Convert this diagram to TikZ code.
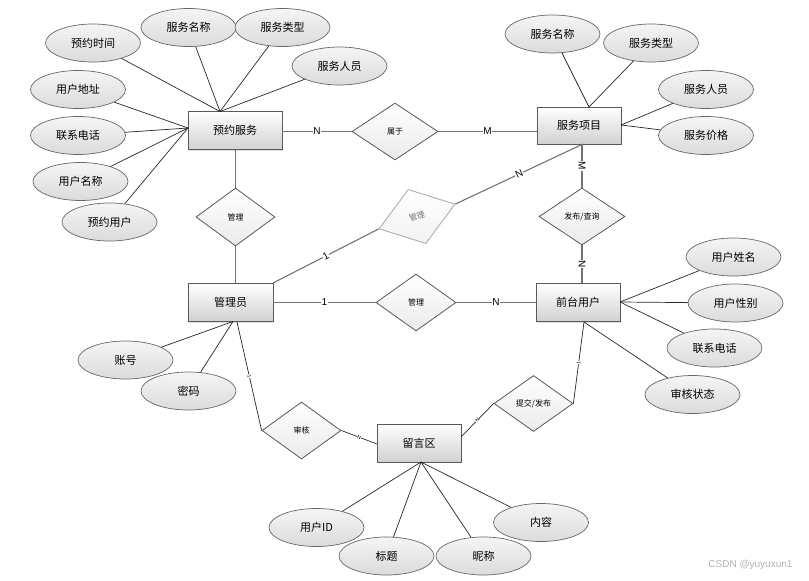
\documentclass[tikz,border=0pt]{standalone}
\usepackage{fontspec}
\setmainfont{Noto Sans CJK SC}
\newfontfamily\lat{Liberation Sans}
\usetikzlibrary{shapes.geometric,shadows,calc}
\begin{document}
\begin{tikzpicture}[x=1pt,y=-1pt,
  entity/.style={rectangle,draw=black!65,line width=0.9pt,top color=white,bottom color=black!18,
    minimum width=85pt,minimum height=38pt,inner sep=0pt,font=\fontsize{11}{13}\selectfont,
    drop shadow={opacity=0.25,shadow xshift=1.2pt,shadow yshift=-1.2pt}},
  attr/.style={ellipse,draw=black!60,line width=0.7pt,top color=black!4,bottom color=black!14,
    minimum width=95pt,minimum height=38pt,inner sep=0pt,font=\fontsize{11}{13}\selectfont},
  rel/.style={diamond,draw=black!65,line width=0.8pt,top color=white,bottom color=black!8,
    minimum width=80pt,minimum height=57pt,inner sep=0pt,font=\fontsize{8}{10}\selectfont},
  aline/.style={draw=black!85,line width=0.7pt},
  rline/.style={draw=black!55,line width=1.1pt},
  card/.style={fill=white,inner sep=0.6pt,font=\lat\fontsize{10}{12}\selectfont},
  tiny/.style={fill=white,inner sep=0.3pt,font=\lat\fontsize{5}{6}\selectfont,sloped}
]
\useasboundingbox (0,0) rectangle (809,581);

% entities
\node[entity,minimum width=94pt] (yy) at (235,130.5) {预约服务};
\node[entity,minimum width=84pt,minimum height=37pt] (fw) at (579,125.5) {服务项目};
\node[entity] (gl) at (230.5,302.5) {管理员};
\node[entity,minimum width=84pt] (qt) at (578,302.5) {前台用户};
\node[entity,minimum width=84pt] (ly) at (419,443) {留言区};

% relationships
\node[rel,minimum width=86pt] (sy) at (395,131.5) {属于};
\node[rel,minimum width=79pt,minimum height=58pt] (g1) at (235.5,217) {管理};
\node[rel,rotate=18,draw=black!35,text=black!55,top color=white,bottom color=black!5] (g2) at (417,216.5) {管理};
\node[rel] (g3) at (416,302.5) {管理};
\node[rel,minimum width=86pt] (fb) at (582,216.5) {发布/查询};
\node[rel,minimum width=79pt] (sh) at (301.5,430.5) {审核};
\node[rel,minimum width=79pt,minimum height=56pt] (tj) at (533.5,403.5) {提交/发布};

% attributes
\node[attr] (a1) at (93,43) {预约时间};
\node[attr] (a2) at (188.5,27.5) {服务名称};
\node[attr] (a3) at (282.5,27.5) {服务类型};
\node[attr] (a4) at (339.5,66) {服务人员};
\node[attr] (a5) at (78,89.5) {用户地址};
\node[attr] (a6) at (78,135.5) {联系电话};
\node[attr] (a7) at (80.5,181.5) {用户名称};
\node[attr] (a8) at (109.5,222) {预约用户};
\node[attr] (b1) at (552.5,34) {服务名称};
\node[attr] (b2) at (651,43) {服务类型};
\node[attr] (b3) at (706,89.5) {服务人员};
\node[attr] (b4) at (706,135.5) {服务价格};
\node[attr] (c1) at (125.5,360) {账号};
\node[attr] (c2) at (188.5,391) {密码};
\node[attr] (d1) at (733.5,257) {用户姓名};
\node[attr] (d2) at (735.5,303) {用户性别};
\node[attr] (d3) at (714.5,348) {联系电话};
\node[attr] (d4) at (692.5,394.5) {审核状态};
\node[attr] (e1) at (316.5,527.5) {用户ID};
\node[attr] (e2) at (386.5,556) {标题};
\node[attr] (e3) at (483.5,556) {昵称};
\node[attr] (e4) at (541,522.5) {内容};

% convergence points
\coordinate (yyT) at (220,111.5);
\coordinate (yyL) at (188,128);
\coordinate (fwT) at (589,107);
\coordinate (fwR) at (621,125);
\coordinate (glB) at (233,321.5);
\coordinate (glB2) at (237,322);
\coordinate (glTR) at (273,283);
\coordinate (qtR) at (620,302);
\coordinate (qtB) at (584,322);
\coordinate (lyB) at (421,462);
\coordinate (fwB) at (583,144);
\coordinate (lyR) at (461,437);
\coordinate (lyL) at (377,444);

% attribute lines
\foreach \a in {a1,a2,a3,a4} \draw[aline] (\a) -- (yyT);
\foreach \a in {a5,a6,a7,a8} \draw[aline] (\a) -- (yyL);
\foreach \a in {b1,b2} \draw[aline] (\a) -- (fwT);
\foreach \a in {b3,b4} \draw[aline] (\a) -- (fwR);
\foreach \a in {c1,c2} \draw[aline] (\a) -- (glB);
\foreach \a in {d1,d2,d3} \draw[aline] (\a) -- (qtR);
\draw[aline] (d4) -- (qtB);
\foreach \a in {e1,e2,e3,e4} \draw[aline] (\a) -- (lyB);

% relationship lines
\draw[rline] (yy.east |- sy.west) -- node[card]{N} (sy.west);
\draw[rline] (sy.east) -- node[card]{M} (sy.east -| fw.west);
\draw[rline] (fb.north |- fw.south) -- node[card,sloped]{M} (fb.north);
\draw[rline] (fb.south) -- node[card,sloped]{N} (fb.south |- qt.north);
\draw[rline] (g1.north |- yy.south) -- (g1.north);
\draw[rline] (g1.south) -- (g1.south |- gl.north);
\draw[rline] (glTR) -- node[card,sloped]{1} (g2.west);
\draw[rline] (g2.east) -- node[card,sloped]{N} (fwB);
\draw[rline] (gl.east) -- node[card]{1} (g3.west);
\draw[rline] (g3.east) -- node[card]{N} (g3.east -| qt.west);
\draw[aline] (glB2) -- node[tiny,pos=0.5]{1} (sh.west);
\draw[aline] (sh.east) -- node[tiny]{N} (lyL);
\draw[aline] (qtB) -- node[tiny]{1} (tj.east);
\draw[aline] (tj.west) -- node[tiny]{N} (lyR);

% watermark
\node[text=black!30,font=\lat\fontsize{10}{12}\selectfont,anchor=east] (wm) at (796,565) {CSDN @yuyuxun1};
\end{tikzpicture}
\end{document}
